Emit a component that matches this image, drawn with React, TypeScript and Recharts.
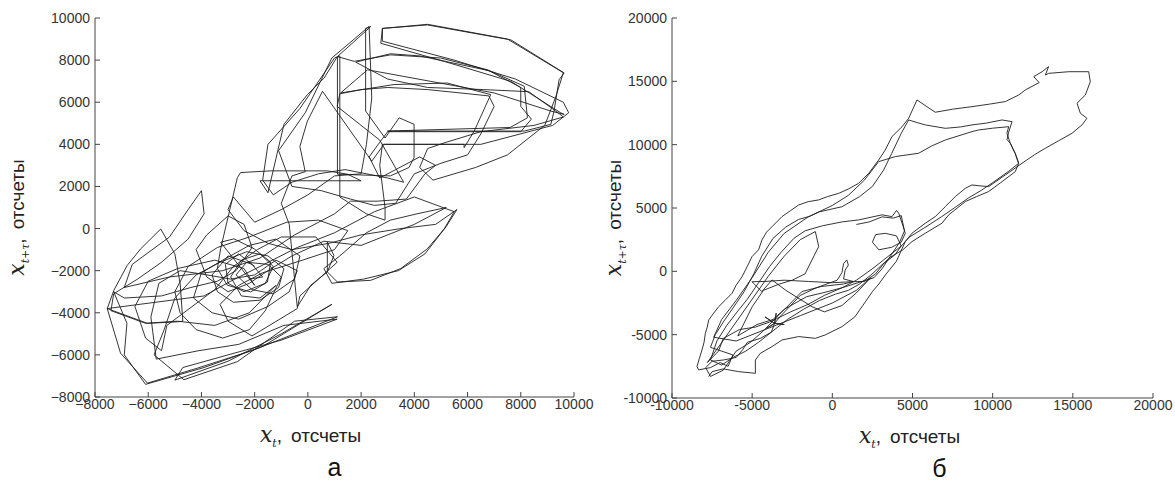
import React from 'react';
import { ScatterChart, Scatter, XAxis, YAxis } from 'recharts';

// panel "а": x_t vs x_{t+tau}
const ticksA = [-8000, -6000, -4000, -2000, 0, 2000, 4000, 6000, 8000, 10000];
const trajectoryA: [number, number][] = [
  [-2000, -1800], [-2600, -1200], [-3100, -1700], [-3000, -2600], [-2400, -3000], [-1600, -2600], [-1300, -1800],
  [-1800, -1200], [-2500, -1500], [-2900, -2300], [-2500, -3200], [-1800, -3300], [-1200, -2700],
  [-2200, -4000], [-3500, -4600], [-4900, -4400], [-6100, -4500], [-7400, -3900], [-7300, -3100], [-6400, -2400],
  [-5500, -1600], [-4500, -500], [-3900, 700], [-4000, 1800], [-4500, 900], [-5200, -400], [-6600, -1700], [-6900, -2800],
  [-5200, -2300], [-3200, -2000], [-1800, -1400], [-500, -300], [1000, 700], [1600, 1300], [2600, 1300], [3700, 1400],
  [4400, 2600], [4800, 3000], [4200, 3400], [3300, 2800], [2700, 2400], [2300, 3400], [2700, 4100], [3000, 4600],
  [5500, 4600], [8000, 4600], [8400, 5200], [8000, 5800], [8000, 6700], [6800, 7500], [4200, 8200], [3100, 8300],
  [2100, 8000], [1800, 7900], [3000, 7100], [4500, 6700], [6600, 6600], [8300, 6500], [9400, 5500], [9600, 5300],
  [8500, 4900], [6500, 4600], [5200, 4100], [4500, 3800], [4200, 2900], [4700, 2300], [6300, 2900], [7500, 3500],
  [8900, 4900], [9300, 6200], [9600, 7400], [7500, 9000], [4500, 9700], [2800, 9500], [2800, 8900], [5500, 8000],
  [7800, 7100], [9600, 6000], [9800, 5500], [9200, 4900], [6500, 4000], [5000, 4000], [2800, 4000], [2700, 3000],
  [2900, 1000], [2900, 400], [2200, 700], [1200, 1500], [1200, 5000], [1200, 8200], [1000, 8100], [-300, 5700],
  [-1500, 4000], [-1700, 2300], [-1300, 1600], [-600, 2200], [400, 2600], [1400, 2800], [3000, 2400], [3600, 2200],
  [2700, 4200], [1100, 5800], [1200, 6400], [2000, 6600], [3000, 6700], [4500, 6600], [6800, 6300], [7000, 5800],
  [6500, 4500], [6000, 3500], [5000, 3100], [4000, 2600], [3300, 1200], [2500, 1100], [1600, 1400], [500, 1800],
  [-600, 2000], [-1100, 3700], [-100, 5500], [900, 8100], [2300, 9600], [2400, 6200], [2200, 4000], [2000, 2600],
  [1000, 2500], [0, 1600], [-1000, 900], [-2000, 300], [-2800, 1500], [-3000, 900], [-2400, -100], [-1500, -700],
  [-600, -1000], [800, -700], [2000, -300], [3500, 0], [4800, 200], [5600, 900], [5200, 100], [4400, -1200],
  [3400, -2000], [2100, -2400], [900, -2600], [600, -1900], [1200, -1300], [2200, -200], [3100, 400], [4100, 700],
  [5200, 1000], [4000, 200], [2000, -800], [600, -600], [-600, -1300], [-1500, -2000], [-2200, -2600], [-3000, -3000],
  [-3800, -2300], [-4200, -1000], [-3800, -300], [-3000, 600], [-2400, 200], [-2100, -900], [-2700, -2000], [-3400, -2500],
  [-4400, -2800], [-5500, -3200], [-6900, -3300], [-7300, -3000], [-6800, -4500], [-6900, -6000], [-6100, -7400],
  [-3900, -6600], [-1700, -5600], [900, -3600], [-1000, -5000], [-3000, -6300], [-5000, -7200], [-4700, -6600],
  [-3000, -6000], [-1000, -5300], [1100, -4300], [-900, -4600], [-2600, -5500], [-4100, -5800], [-5700, -6200],
  [-5900, -4200], [-5600, -2600], [-4800, -2000], [-3800, -2200], [-2900, -2400], [-2000, -2200], [-1200, -1500],
  [-400, -2000], [-700, -3000], [-1500, -3700], [-2600, -4300], [-3600, -4000], [-4300, -3300], [-4000, -2100],
  [-3200, -1500], [-2200, -800], [-1200, -500], [-300, -1300], [-500, -2400], [-1300, -3100], [-2100, -2900],
  [-2700, -2200], [-2300, -1600], [-1500, -1700], [-1000, -2300], [-1600, -3900], [-2200, -4800], [-3200, -5200],
  [-4200, -4800], [-4800, -4000], [-5000, -3000], [-4500, -1800], [-3400, -900], [-2200, -400], [-800, 300],
  [400, 400], [1500, -100], [1000, -1000], [-200, -1500], [-1700, -2100], [-2600, -2700], [-3300, -3600],
  [-3000, -4400], [-2100, -5100], [-400, -3800], [-300, -3200], [400, -2400], [1100, -1600], [300, -400],
  [-1000, -400], [-1900, -1000], [-2800, -1800], [-3500, -2900], [-5300, -4600], [-5500, -5800], [-6100, -5200],
  [-6500, -3700], [-6000, -2500], [-4900, -1900], [-3500, -1500], [-2400, -1900], [-2000, -2700],
  [-3280, -650], [-2780, -490], [-2020, -960], [-1400, -1590], [-1520, -2540], [-2150, -3010], [-3030, -2690],
  [-3400, -1900], [-3280, -960], [-2650, 2420], [-2530, 2660], [-1400, 2740], [730, 2740], [1490, 2580], [2000, 2270],
  [-1800, 2270], [-1500, 1700], [-900, 4950], [-20, 6360], [610, 7150], [1110, 8170], [2360, 9590], [2170, 9510],
  [2170, 5580], [2900, 4300], [3430, 5260], [3990, 4950], [3990, 3370], [3800, 2900], [3100, 2500], [1110, 2580],
  [1110, 5420], [1110, 8170], [1740, 7940], [3110, 8250], [4990, 8100], [6750, 7540], [8130, 6760], [8250, 5260],
  [7600, 4800], [2990, 4630], [8130, 4630], [9130, 4950], [9250, 5580], [9440, 7070], [9630, 7390], [7630, 8960],
  [4490, 9670], [2800, 9510], [2740, 8800], [5120, 7940], [7630, 6990], [9500, 5500], [9630, 5420], [9130, 5580],
  [7000, 6440], [4620, 6990], [2240, 7540], [1230, 6440], [3240, 6840], [5240, 6910], [6870, 6360], [6250, 4630],
  [5870, 3840], [5870, 4000], [2860, 4000], [2400, 3200], [550, 6520], [-20, 5100], [-300, 3900], [-100, 2700],
  [-600, 2500], [-1000, 1200], [-700, 200], [-400, -3720], [110, -2690], [730, -2060], [980, -1280], [730, -650],
  [730, -2060], [1110, -2540], [2360, -2460], [3490, -1900], [4490, -960], [5120, -20], [5500, 800], [4000, 1500],
  [2500, 800], [1000, -200], [-400, -900], [-1800, -1800], [-2900, -2500], [-3900, -3200], [-7540, -3800],
  [-7290, -2930], [-6790, -1750], [-6280, -960], [-5530, -20], [-5000, -1200], [-4800, -2600], [-4700, -4400],
  [-4910, -4430], [-6030, -4500], [-7540, -3800], [-7040, -5920], [-6030, -7340], [-4150, -6630], [-2020, -5760],
  [1110, -4190], [-500, -4400], [-2650, -6320], [-4660, -7180], [-5780, -6000], [-5400, -4800], [-5000, -3300],
  [-4200, -2200], [-3300, -1600], [-2300, -1100], [-1500, -1300], [-900, -1900], [-1100, -2800], [-1800, -3400],
  [-2800, -3500], [-3400, -3000], [-3600, -2200], [-3000, -1300], [-2100, -1700], [-1700, -2300], [-2200, -2400],
];

// panel "б"
const ticksB = [-10000, -5000, 0, 5000, 10000, 15000, 20000];
const trajectoryB: [number, number][] = [
  [-7710, -8310], [-7500, -7920], [-6800, -7700], [-5840, -7920], [-4800, -8050], [-4800, -7000], [-4490, -6470],
  [-3760, -5940], [-3140, -5420], [-2100, -5150], [-1060, -5290], [-440, -5020], [600, -4370], [1400, -3600],
  [1900, -2700], [2500, -1600], [2900, -1000], [3300, -300], [4000, 800], [4550, 2350], [4970, 3010], [5800, 3800],
  [6420, 4320], [7050, 5110], [7670, 5900], [8300, 6560], [8710, 6820], [9200, 6750], [9750, 6690], [10790, 7610],
  [11830, 8530], [12600, 9200], [13290, 9720], [14100, 10300], [14950, 10900], [15570, 11560], [15880, 12080],
  [15470, 12480], [15260, 13270], [15780, 13920], [16090, 14970], [15990, 15760], [14740, 15760], [13490, 15630],
  [13290, 15500], [13490, 16160], [13080, 15760], [12560, 15370], [12900, 14900], [12040, 14320], [11620, 13920],
  [10790, 13400], [9800, 13200], [8710, 13000], [7500, 12800], [6420, 12560], [5900, 13000], [5280, 13530],
  [4760, 12080], [4350, 11420], [3720, 10640], [3300, 9580], [2890, 8790], [2270, 7740], [1640, 6950], [1000, 6500],
  [400, 6160], [-300, 5900], [-850, 5640], [-1500, 5500], [-2100, 5240], [-2600, 4800], [-3140, 4320], [-3760, 3530],
  [-4100, 3100], [-4390, 2480], [-4600, 1700], [-5010, 1160], [-5300, 400], [-5630, -420], [-6000, -1100],
  [-6260, -1740], [-6700, -2300], [-7090, -2790], [-7400, -3300], [-7710, -3840], [-7800, -4400], [-7920, -4890],
  [-8000, -5600], [-8130, -6210], [-8300, -6900], [-8440, -7520], [-8340, -7780], [-7600, -7600], [-7000, -7200],
  [-6500, -7500], [-6200, -6600], [-6900, -6300], [-7600, -6000], [-7300, -5000], [-6800, -4000], [-6200, -2900],
  [-5500, -1600], [-4900, -200], [-4400, 1200], [-3700, 2600], [-2900, 3500], [-2100, 4100], [-1400, 4350],
  [-800, 4700], [600, 5100], [1700, 5900], [2500, 6700], [3200, 8000], [3700, 9300], [4300, 10900], [4760, 11950],
  [5400, 11700], [5800, 11560], [7050, 11290], [8000, 11400], [8710, 11560], [9600, 11700], [10580, 11950],
  [11210, 11820], [11000, 11000], [10900, 10400], [11100, 10110], [11410, 9320], [11620, 8530], [11410, 7870],
  [10500, 7000], [9750, 6300], [9000, 5900], [8300, 5510], [7260, 4460], [6840, 3800], [5800, 3010], [4970, 2350],
  [4400, 1700], [3600, 1100], [3000, 400], [2400, -300], [1700, -1000], [1000, -1500], [200, -1800], [-800, -2300],
  [-1800, -3000], [-2800, -3800], [-3700, -4700], [-4600, -5600], [-5400, -6300], [-6200, -6800], [-6900, -7400],
  [-7600, -7000], [-7200, -5500], [-6600, -4300], [-6000, -3300], [-5300, -2200], [-4600, -900], [-3900, 400],
  [-3200, 1500], [-2400, 2600], [-1700, 3200], [-600, 3600], [600, 3900], [1640, 4060], [3100, 4460], [3720, 4320],
  [4000, 4800], [4140, 4590], [4350, 3800], [4550, 3010], [4300, 2300], [3700, 1900], [2900, 1700], [2500, 2300],
  [2700, 2900], [3300, 3000], [4000, 2800], [4300, 2000], [3900, 1300], [3200, 600], [2700, -200], [2000, -800],
  [1230, -820], [0, -900], [-1500, -800], [-3000, -700], [-4200, -800], [-5010, -820], [-4400, -1600],
  [-3760, -680], [-2900, -1500], [-1270, -2790], [-500, -3200], [600, -2700], [1500, -1700], [2400, -500],
  [1500, -1500], [0, -2500], [-2000, -3500], [-4000, -4500], [-6000, -5500], [-7400, -5200], [-6900, -3800],
  [-6000, -2300], [-5000, -500], [-4000, 1500], [-3000, 3000], [-1500, 4300], [0, 5200],
  [1000, 6000], [2000, 7200], [2890, 8660], [3930, 9060], [5380, 9320], [6200, 9900], [7050, 10370], [8710, 11030],
  [9130, 11160], [10000, 11300], [11000, 11420], [10890, 10900], [11100, 10110], [11400, 9300], [11620, 8530],
  [11000, 7900], [10000, 7000], [9300, 6400], [8500, 5800], [7600, 5000], [6800, 4300], [5700, 3400], [4800, 2700],
  [4300, 2000], [3600, 1300], [2600, 300], [1500, -700], [600, -1300], [-500, -1900], [-1500, -2600], [-2600, -3200],
  [-3900, -4000], [-4800, -4400], [-5800, -4600], [-6800, -5300], [-7100, -6300], [-7800, -7200],
  [-7000, -5800], [-6000, -4000], [-5000, -2200], [-4000, -400], [-3000, 1200], [-2000, 2500],
  [-1060, 3140], [-850, 1960], [-1270, 900], [-1700, -200], [-2500, -700], [-3300, -1000], [-4300, -1500],
  [-5000, -2800], [-5900, -5100], [-4700, -4200], [-3700, -3800], [-2900, -2900], [-1900, -1600], [-700, -1200],
  [700, -1000], [1300, -800], [700, -600], [800, 100], [1000, 500], [900, 900], [700, 600], [600, -100], [300, -700],
  [-1000, -1300], [-2000, -1900], [-3200, -3500], [-3600, -4100], [-4200, -3600], [-3600, -4100], [-3500, -3300],
  [-3600, -4100], [-4100, -4500], [-3600, -4100], [-3000, -4200], [-3600, -4100], [-3800, -4800], [-4500, -5300],
  [-5300, -5600], [-5600, -6200], [-6000, -6800], [-6800, -7000], [-7500, -7100], [-7900, -7600], [-7600, -8300],
  [-6800, -7800], [-6000, -6300], [-5100, -5600], [-4300, -4700], [-3000, -3000], [-1600, -2000], [-600, -1700],
  [600, -1300], [1600, -900], [2600, -500], [3100, 200], [4200, 2300], [4500, 3200], [4300, 4400], [3800, 4200],
  [3100, 4300], [2300, 3900], [1500, 3700],
];

const AXIS = '#444';
const LINE = '#1e1e1e';
const tickFont = { fontFamily: 'Liberation Sans, Arial, sans-serif', fontSize: 14, fill: '#333' };
const SERIF = 'DejaVu Serif, serif';
const SANS = 'Liberation Sans, Arial, sans-serif';

const XTitle = ({ viewBox, letter, titleDx, letterDx }: any) => {
  const { x, y, width } = viewBox;
  const cx = x + width / 2;
  return (
    <g>
      <text x={cx + titleDx} y={y + 45} textAnchor="middle" fill="#222">
        <tspan fontFamily={SERIF} fontStyle="italic" fontSize={22}>x</tspan>
        <tspan fontFamily={SERIF} fontStyle="italic" fontSize={11} dy={5}>t</tspan>
        <tspan fontFamily={SANS} fontSize={19} dy={-5}>,</tspan>
        <tspan fontFamily={SANS} fontSize={19} dx={9}>отсчеты</tspan>
      </text>
      <text x={cx + letterDx} y={y + 79} textAnchor="middle" fontFamily={SANS} fontSize={25} fill="#111">
        {letter}
      </text>
    </g>
  );
};

const YTitle = ({ viewBox, dx }: any) => {
  const { x, y, height } = viewBox;
  const cx = x + dx;
  const cy = y + height / 2 + 10;
  return (
    <text x={cx} y={cy} textAnchor="middle" transform={`rotate(-90 ${cx} ${cy})`} fill="#222">
      <tspan fontFamily={SERIF} fontStyle="italic" fontSize={22}>x</tspan>
      <tspan fontFamily={SERIF} fontStyle="italic" fontSize={11} dy={5}>t+τ</tspan>
      <tspan fontFamily={SANS} fontSize={19} dy={-5}>,</tspan>
      <tspan fontFamily={SANS} fontSize={19} dx={9}>отсчеты</tspan>
    </text>
  );
};

const noShape = () => <g />;

type PanelProps = {
  data: { x: number; y: number }[];
  ticks: number[];
  fmt: (v: number) => string;
  left: number;
  width: number;
  margin: { top: number; right: number; bottom: number; left: number };
  letter: string;
  titleDx: number;
  letterDx: number;
  yTitleDx: number;
};

const Panel = ({ data, ticks, fmt, left, width, margin, letter, titleDx, letterDx, yTitleDx }: PanelProps) => {
  const domain: [number, number] = [ticks[0], ticks[ticks.length - 1]];
  return (
    <div style={{ position: 'absolute', left, top: 0 }}>
      <ScatterChart width={width} height={482} margin={margin}>
        <XAxis
          type="number" dataKey="x" xAxisId="b" domain={domain} ticks={ticks} tickFormatter={fmt}
          height={25} tickSize={-5} tickMargin={7} interval={0}
          stroke={AXIS} tick={tickFont}
          label={{ content: (p: any) => <XTitle {...p} letter={letter} titleDx={titleDx} letterDx={letterDx} /> }}
        />
        <XAxis
          type="number" dataKey="x" xAxisId="t" orientation="top" domain={domain} ticks={ticks}
          height={0} tickSize={-5} tickFormatter={() => ''} stroke={AXIS} interval={0}
        />
        <YAxis
          type="number" dataKey="y" yAxisId="l" domain={domain} ticks={ticks} tickFormatter={fmt}
          width={50} tickSize={-5} tickMargin={10} interval={0}
          stroke={AXIS} tick={tickFont}
          label={{ content: (p: any) => <YTitle {...p} dx={yTitleDx} /> }}
        />
        <YAxis
          type="number" dataKey="y" yAxisId="r" orientation="right" domain={domain} ticks={ticks}
          width={0} tickSize={-5} tickFormatter={() => ''} stroke={AXIS} interval={0}
        />
        <Scatter
          data={data} xAxisId="b" yAxisId="l" shape={noShape}
          line={{ stroke: LINE, strokeWidth: 0.9 }} lineType="joint" isAnimationActive={false}
        />
      </ScatterChart>
    </div>
  );
};

const toPoints = (arr: [number, number][]) => arr.map(([x, y]) => ({ x, y }));
const fmtA = (v: number) => String(v).replace('-', '\u2212');
const fmtB = (v: number) => String(v);

export default function App() {
  return (
    <div style={{ position: 'absolute', left: 0, top: 0, width: 1175, height: 482, background: '#fff' }}>
      <Panel
        data={toPoints(trajectoryA)} ticks={ticksA} fmt={fmtA} left={0} width={598}
        margin={{ top: 18, right: 24, bottom: 60, left: 45 }} letter="а"
        titleDx={-24} letterDx={0} yTitleDx={-21}
      />
      <Panel
        data={toPoints(trajectoryB)} ticks={ticksB} fmt={fmtB} left={598} width={577}
        margin={{ top: 18, right: 22, bottom: 59, left: 24 }} letter="б"
        titleDx={-3} letterDx={27} yTitleDx={-1}
      />
    </div>
  );
}
